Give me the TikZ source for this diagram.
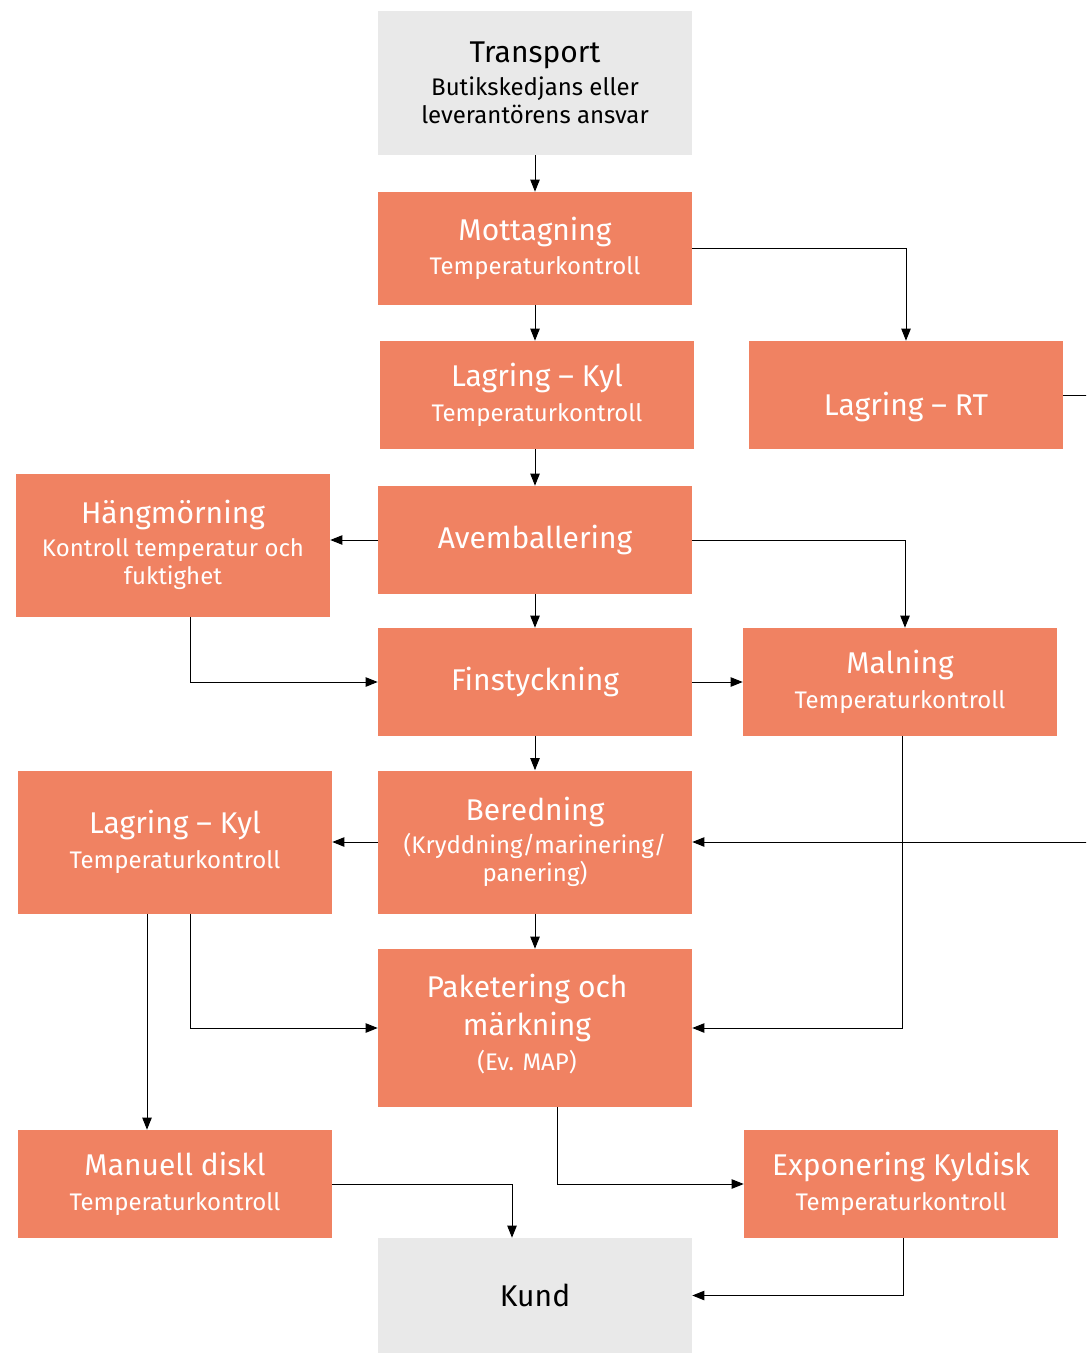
\documentclass[tikz,border=0pt]{standalone}
\usepackage{fontspec}
\setmainfont{Fira Sans}
\usetikzlibrary{arrows.meta,calc}
\definecolor{laxrosa}{HTML}{F08262}
\definecolor{ljusgra}{HTML}{E9E9E9}
\newcommand{\rubrik}[1]{{\fontsize{22.5}{26}\selectfont #1}}
\begin{document}
\begin{tikzpicture}[x=0.75pt,y=-0.75pt,
	ruta/.style={fill=laxrosa,text=white,minimum width=235.5pt,inner sep=0pt,align=center,
		font=\fontsize{18}{21}\selectfont},
	grruta/.style={ruta,fill=ljusgra,text=black},
	pil/.style={-{Triangle[length=9pt,width=7pt]},line width=0.75pt}]
	\useasboundingbox (0,0) rectangle (1086,1353);
	\clip (0,0) rectangle (1086,1353);
	% mittkolumnen
	\node[grruta,minimum height=108pt] (transport) at (535,83)
		{\rubrik{Transport}\\[4pt] Butikskedjans eller\\ leverantörens ansvar};
	\node[ruta,minimum height=84.75pt] (mottag) at (535,248.5)
		{\rubrik{Mottagning}\\[5pt] Temperaturkontroll};
	\node[ruta,minimum height=81pt] (lagkyl) at (537,395)
		{\rubrik{Lagring – Kyl}\\[5pt] Temperaturkontroll};
	\node[ruta,minimum height=81pt] (avemb) at (535,540) {\rubrik{Avemballering}};
	\node[ruta,minimum height=81pt] (finst) at (535,682) {\rubrik{Finstyckning}};
	\node[ruta,minimum height=107.25pt] (bered) at (535,842)
		{\rubrik{Beredning}\\[4pt] (Kryddning/marinering/\\ panering)};
	\node[ruta,minimum height=118.5pt] (paket) at (535,1028) {};
	\node[text=white,align=center,font=\fontsize{18}{21}\selectfont] (paketxt) at (527,1024)
		{\rubrik{Paketering och}\\[5pt] \rubrik{märkning}\\[5pt] (Ev. MAP)};
	\node[grruta,minimum height=86.25pt] (kund) at (535,1295.5) {\rubrik{Kund}};
	% vänster
	\node[ruta,minimum height=107.25pt] (hang) at (173,545)
		{\rubrik{Hängmörning}\\[4pt] Kontroll temperatur och\\ fuktighet};
	\node[ruta,minimum height=107.25pt] (lagv) at (175,842)
		{\rubrik{Lagring – Kyl}\\[5pt] Temperaturkontroll};
	\node[ruta,minimum height=81pt] (manuell) at (175,1184)
		{\rubrik{Manuell diskl}\\[5pt] Temperaturkontroll};
	% höger
	\node[ruta,minimum height=81pt] (rt) at (906,395) {};
	\node[text=white,font=\fontsize{22.5}{26}\selectfont] (rttxt) at (906,407) {Lagring – RT};
	\node[ruta,minimum height=81pt] (maln) at (900,682)
		{\rubrik{Malning}\\[5pt] Temperaturkontroll};
	\node[ruta,minimum height=81pt] (expo) at (901,1184)
		{\rubrik{Exponering Kyldisk}\\[5pt] Temperaturkontroll};
	% pilar
	\draw[pil] (transport) -- (mottag);
	\draw[pil] (mottag.south) -- (mottag.south |- lagkyl.north);
	\draw[pil] (mottag.east) -| (rt.north);
	\draw[pil] (avemb.north |- lagkyl.south) -- (avemb.north);
	\draw[pil] (avemb.west) -- (hang.east |- avemb.west);
	\draw[pil] (avemb.east) -| ($(maln.north)+(5,0)$);
	\draw[pil] (avemb) -- (finst);
	\draw[pil] ($(hang.south)+(17,0)$) |- (finst.west);
	\draw[pil] (finst.east) -- (maln.west);
	\draw[pil] (finst) -- (bered);
	\draw[pil] (bered.west) -- (lagv.east);
	\draw[pil] (rt.east) -- ++(40,0) |- (bered.east);
	\draw[pil] (bered) -- (paket);
	\draw[pil] ($(maln.south)+(2,0)$) |- (paket.east);
	\draw[pil] ($(lagv.south)+(15,0)$) |- (paket.west);
	\draw[pil] ($(lagv.south)+(-28,0)$) -- ($(manuell.north)+(-28,0)$);
	\draw[pil] ($(paket.south)+(22,0)$) |- (expo.west);
	\draw[pil] (manuell.east) -| ($(kund.north)+(-23,0)$);
	\draw[pil] ($(expo.south)+(2,0)$) |- (kund.east);
\end{tikzpicture}
\end{document}
